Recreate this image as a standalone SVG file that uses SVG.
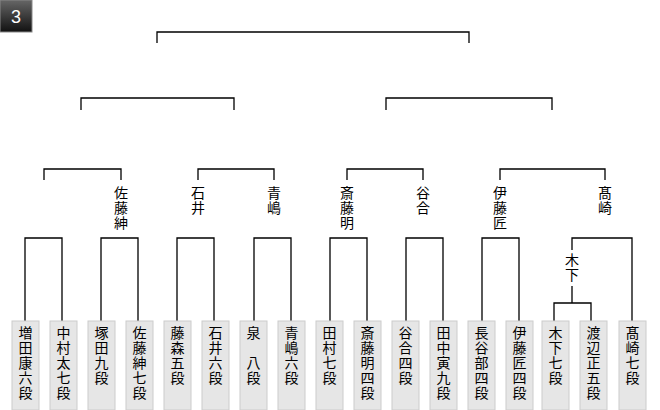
<svg xmlns="http://www.w3.org/2000/svg" width="660" height="410" viewBox="0 0 660 410">
<defs>
<linearGradient id="bg" x1="0" y1="0" x2="0" y2="1"><stop offset="0" stop-color="#666"/><stop offset="1" stop-color="#111"/></linearGradient>
<style>
.ln{fill:none;stroke:#000;stroke-width:1.3}
.bx{fill:#e6e6e6;stroke:#ccc;stroke-width:1}
text{font-family:"Noto Sans CJK JP","Noto Sans CJK SC",sans-serif;font-size:14px;fill:#000;text-anchor:middle}
</style>
</defs>
<rect width="660" height="410" fill="#fff"/>
<g id="badge"><rect x="0" y="0" width="32" height="32" fill="url(#bg)" stroke="#888"/><text x="16" y="23" style="fill:#fff;font-family:'Liberation Sans',sans-serif;font-size:18px">3</text></g>
<g id="connectors" class="ln">
<path d="M157,43V32H469V43"/>
<path d="M81,110V98H234V110"/>
<path d="M386,110V98H552V110"/>
<path d="M44,180V169H121V180"/>
<path d="M198,180V169H274V180"/>
<path d="M347,180V169H423V180"/>
<path d="M500,180V169H605V180"/>
<path d="M25,321V238H62V321"/>
<path d="M101,321V238H138V321"/>
<path d="M177,321V238H214V321"/>
<path d="M254,321V238H291V321"/>
<path d="M330,321V238H367V321"/>
<path d="M406,321V238H443V321"/>
<path d="M482,321V238H519V321"/>
<path d="M572,250V238H632V321"/>
<path d="M572,286V303M554,321V303H591V321"/>
</g>
<g id="winners">
<text x="121" y="198"><tspan x="121">佐</tspan><tspan x="121" dy="15">藤</tspan><tspan x="121" dy="15">紳</tspan></text>
<text x="198" y="198"><tspan x="198">石</tspan><tspan x="198" dy="15">井</tspan></text>
<text x="274" y="198"><tspan x="274">青</tspan><tspan x="274" dy="15">嶋</tspan></text>
<text x="347" y="198"><tspan x="347">斎</tspan><tspan x="347" dy="15">藤</tspan><tspan x="347" dy="15">明</tspan></text>
<text x="423" y="198"><tspan x="423">谷</tspan><tspan x="423" dy="15">合</tspan></text>
<text x="500" y="198"><tspan x="500">伊</tspan><tspan x="500" dy="15">藤</tspan><tspan x="500" dy="15">匠</tspan></text>
<text x="605" y="198"><tspan x="605">髙</tspan><tspan x="605" dy="15">崎</tspan></text>
<text x="572" y="265"><tspan x="572">木</tspan><tspan x="572" dy="15">下</tspan></text>
</g>
<g id="players">
<g id="p1"><rect class="bx" x="12" y="321" width="27" height="89"/><text y="338"><tspan x="25.5">増</tspan><tspan x="25.5" dy="15">田</tspan><tspan x="25.5" dy="15">康</tspan><tspan x="25.5" dy="15">六</tspan><tspan x="25.5" dy="15">段</tspan></text></g>
<g id="p2"><rect class="bx" x="50" y="321" width="27" height="89"/><text y="338"><tspan x="63.5">中</tspan><tspan x="63.5" dy="15">村</tspan><tspan x="63.5" dy="15">太</tspan><tspan x="63.5" dy="15">七</tspan><tspan x="63.5" dy="15">段</tspan></text></g>
<g id="p3"><rect class="bx" x="88" y="321" width="27" height="89"/><text y="338"><tspan x="101.5">塚</tspan><tspan x="101.5" dy="15">田</tspan><tspan x="101.5" dy="15">九</tspan><tspan x="101.5" dy="15">段</tspan></text></g>
<g id="p4"><rect class="bx" x="126" y="321" width="27" height="89"/><text y="338"><tspan x="139.5">佐</tspan><tspan x="139.5" dy="15">藤</tspan><tspan x="139.5" dy="15">紳</tspan><tspan x="139.5" dy="15">七</tspan><tspan x="139.5" dy="15">段</tspan></text></g>
<g id="p5"><rect class="bx" x="164" y="321" width="27" height="89"/><text y="338"><tspan x="177.5">藤</tspan><tspan x="177.5" dy="15">森</tspan><tspan x="177.5" dy="15">五</tspan><tspan x="177.5" dy="15">段</tspan></text></g>
<g id="p6"><rect class="bx" x="202" y="321" width="27" height="89"/><text y="338"><tspan x="215.5">石</tspan><tspan x="215.5" dy="15">井</tspan><tspan x="215.5" dy="15">六</tspan><tspan x="215.5" dy="15">段</tspan></text></g>
<g id="p7"><rect class="bx" x="240" y="321" width="27" height="89"/><text y="338"><tspan x="253.5">泉</tspan><tspan x="253.5" dy="30">八</tspan><tspan x="253.5" dy="15">段</tspan></text></g>
<g id="p8"><rect class="bx" x="278" y="321" width="27" height="89"/><text y="338"><tspan x="291.5">青</tspan><tspan x="291.5" dy="15">嶋</tspan><tspan x="291.5" dy="15">六</tspan><tspan x="291.5" dy="15">段</tspan></text></g>
<g id="p9"><rect class="bx" x="316" y="321" width="27" height="89"/><text y="338"><tspan x="329.5">田</tspan><tspan x="329.5" dy="15">村</tspan><tspan x="329.5" dy="15">七</tspan><tspan x="329.5" dy="15">段</tspan></text></g>
<g id="p10"><rect class="bx" x="354" y="321" width="27" height="89"/><text y="338"><tspan x="367.5">斎</tspan><tspan x="367.5" dy="15">藤</tspan><tspan x="367.5" dy="15">明</tspan><tspan x="367.5" dy="15">四</tspan><tspan x="367.5" dy="15">段</tspan></text></g>
<g id="p11"><rect class="bx" x="392" y="321" width="27" height="89"/><text y="338"><tspan x="405.5">谷</tspan><tspan x="405.5" dy="15">合</tspan><tspan x="405.5" dy="15">四</tspan><tspan x="405.5" dy="15">段</tspan></text></g>
<g id="p12"><rect class="bx" x="430" y="321" width="27" height="89"/><text y="338"><tspan x="443.5">田</tspan><tspan x="443.5" dy="15">中</tspan><tspan x="443.5" dy="15">寅</tspan><tspan x="443.5" dy="15">九</tspan><tspan x="443.5" dy="15">段</tspan></text></g>
<g id="p13"><rect class="bx" x="468" y="321" width="27" height="89"/><text y="338"><tspan x="481.5">長</tspan><tspan x="481.5" dy="15">谷</tspan><tspan x="481.5" dy="15">部</tspan><tspan x="481.5" dy="15">四</tspan><tspan x="481.5" dy="15">段</tspan></text></g>
<g id="p14"><rect class="bx" x="506" y="321" width="27" height="89"/><text y="338"><tspan x="519.5">伊</tspan><tspan x="519.5" dy="15">藤</tspan><tspan x="519.5" dy="15">匠</tspan><tspan x="519.5" dy="15">四</tspan><tspan x="519.5" dy="15">段</tspan></text></g>
<g id="p15"><rect class="bx" x="542" y="321" width="27" height="89"/><text y="338"><tspan x="555.5">木</tspan><tspan x="555.5" dy="15">下</tspan><tspan x="555.5" dy="15">七</tspan><tspan x="555.5" dy="15">段</tspan></text></g>
<g id="p16"><rect class="bx" x="580" y="321" width="27" height="89"/><text y="338"><tspan x="593.5">渡</tspan><tspan x="593.5" dy="15">辺</tspan><tspan x="593.5" dy="15">正</tspan><tspan x="593.5" dy="15">五</tspan><tspan x="593.5" dy="15">段</tspan></text></g>
<g id="p17"><rect class="bx" x="619" y="321" width="27" height="89"/><text y="338"><tspan x="632.5">髙</tspan><tspan x="632.5" dy="15">崎</tspan><tspan x="632.5" dy="15">七</tspan><tspan x="632.5" dy="15">段</tspan></text></g>
</g>
</svg>
